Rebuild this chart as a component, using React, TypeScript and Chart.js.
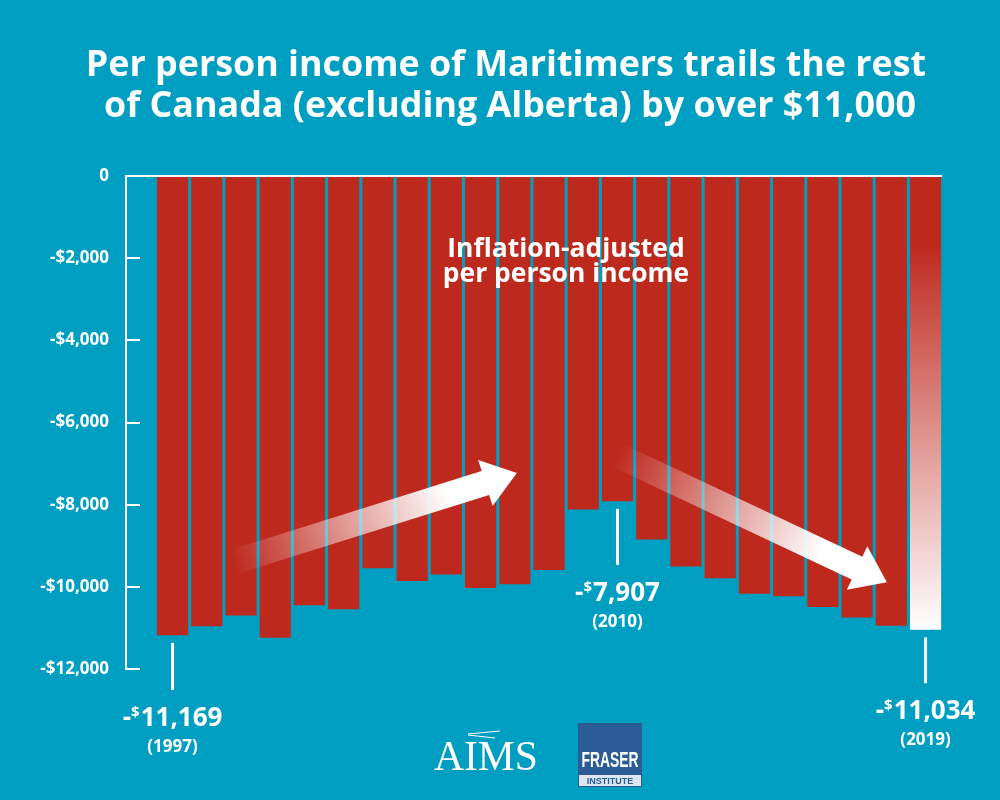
import React, { useEffect, useRef } from "react";
import { Chart, registerables } from "chart.js";

Chart.register(...registerables);

const years = [1997, 1998, 1999, 2000, 2001, 2002, 2003, 2004, 2005, 2006, 2007, 2008, 2009, 2010, 2011, 2012, 2013, 2014, 2015, 2016, 2017, 2018, 2019];
const gapValues = [-11169, -10950, -10690, -11230, -10440, -10540, -9540, -9850, -9690, -10020, -9930, -9580, -8110, -7907, -8840, -9500, -9780, -10160, -10220, -10480, -10740, -10940, -11034];
const yTickValues = [0, -2000, -4000, -6000, -8000, -10000, -12000];
const yTickLabels = ["0", "-$2,000", "-$4,000", "-$6,000", "-$8,000", "-$10,000", "-$12,000"];
const titleLines = ["Per person income of Maritimers trails the rest", "of Canada (excluding Alberta) by over $11,000"];
const noteLines = ["Inflation-adjusted", "per person income"];
const calloutYears = [1997, 2010, 2019];
const calloutNumbers = ["11,169", "7,907", "11,034"];
const calloutYearLabels = ["(1997)", "(2010)", "(2019)"];
const trendArrows = [
  { from: [1998.77, -9399], to: [2007.06, -7232] },
  { from: [2009.99, -6793], to: [2017.87, -9886] },
];

const BG = "#009EC0";
const RED = "#BE291E";
const FONT = "'Open Sans', 'Noto Sans', sans-serif";

function fitSize(ctx: CanvasRenderingContext2D, text: string, weight: string, family: string, width: number) {
  ctx.font = `${weight} 100px ${family}`;
  const w = ctx.measureText(text).width;
  return (100 * width) / w;
}

function drawArrow(ctx: CanvasRenderingContext2D, sx: number, sy: number, tx: number, ty: number) {
  const dx = tx - sx;
  const dy = ty - sy;
  const L = Math.hypot(dx, dy);
  const ux = dx / L;
  const uy = dy / L;
  const nx = -uy;
  const ny = ux;
  const hw = 12.5;
  const hh = 24;
  const hl = 33;
  const bx = tx - ux * hl;
  const by = ty - uy * hl;
  const g = ctx.createLinearGradient(sx, sy, bx, by);
  g.addColorStop(0, "rgba(255,255,255,0)");
  g.addColorStop(0.85, "rgba(255,255,255,1)");
  g.addColorStop(1, "rgba(255,255,255,1)");
  ctx.save();
  ctx.fillStyle = g;
  ctx.beginPath();
  ctx.moveTo(sx + nx * hw, sy + ny * hw);
  ctx.lineTo(bx + nx * hw, by + ny * hw);
  ctx.lineTo(bx + nx * hh, by + ny * hh);
  ctx.lineTo(tx, ty);
  ctx.lineTo(bx - nx * hh, by - ny * hh);
  ctx.lineTo(bx - nx * hw, by - ny * hw);
  ctx.lineTo(sx - nx * hw, sy - ny * hw);
  ctx.closePath();
  ctx.fill();
  ctx.restore();
}

const decorPlugin = {
  id: "decor",
  beforeDraw(chart: any) {
    const ctx = chart.ctx;
    ctx.save();
    ctx.fillStyle = BG;
    ctx.fillRect(0, 0, chart.width, chart.height);
    ctx.restore();
  },
  afterDatasetsDraw(chart: any) {
    const ctx: CanvasRenderingContext2D = chart.ctx;
    const xs = chart.scales.x;
    const ys = chart.scales.y;
    trendArrows.forEach((a) => {
      drawArrow(
        ctx,
        xs.getPixelForValue(a.from[0]),
        ys.getPixelForValue(a.from[1]),
        xs.getPixelForValue(a.to[0]),
        ys.getPixelForValue(a.to[1])
      );
    });
    ctx.save();
    ctx.fillStyle = "#fff";
    ctx.textAlign = "center";
    ctx.textBaseline = "alphabetic";
    const s1 = fitSize(ctx, noteLines[0], "bold", FONT, 236);
    const s2 = fitSize(ctx, noteLines[1], "bold", FONT, 248);
    const ns = (s1 + s2) / 2;
    ctx.font = `bold ${ns}px ${FONT}`;
    ctx.fillText(noteLines[0], 566, 257);
    ctx.fillText(noteLines[1], 566, 282);
    ctx.restore();
  },
  afterDraw(chart: any) {
    const ctx: CanvasRenderingContext2D = chart.ctx;
    const xs = chart.scales.x;
    const ys = chart.scales.y;
    const area = chart.chartArea;
    ctx.save();
    ctx.strokeStyle = "#fff";
    ctx.lineWidth = 2;
    ctx.beginPath();
    ctx.moveTo(area.left, ys.getPixelForValue(0) - 1);
    ctx.lineTo(area.left, ys.getPixelForValue(-12000) + 1);
    ctx.stroke();
    ctx.beginPath();
    ctx.moveTo(area.left - 1, ys.getPixelForValue(0));
    ctx.lineTo(area.right, ys.getPixelForValue(0));
    ctx.stroke();
    yTickValues.forEach((v) => {
      if (v === 0) return;
      const y = Math.round(ys.getPixelForValue(v));
      ctx.beginPath();
      ctx.moveTo(area.left, y);
      ctx.lineTo(area.left + 14, y);
      ctx.stroke();
    });
    ctx.restore();

    const lineLens = [47, 56, 46];
    calloutYears.forEach((yr, k) => {
      const i = years.indexOf(yr);
      const x = xs.getPixelForValue(yr);
      const yb = ys.getPixelForValue(gapValues[i]);
      const y0 = yb + 8;
      const y1 = y0 + lineLens[k];
      ctx.save();
      ctx.strokeStyle = "#fff";
      ctx.lineWidth = 3;
      ctx.beginPath();
      ctx.moveTo(x, y0);
      ctx.lineTo(x, y1);
      ctx.stroke();
      ctx.fillStyle = "#fff";
      ctx.textBaseline = "alphabetic";
      ctx.textAlign = "left";
      const big = `bold 26px ${FONT}`;
      const small = `bold 15px ${FONT}`;
      ctx.font = big;
      const wDash = ctx.measureText("-").width;
      const wNum = ctx.measureText(calloutNumbers[k]).width;
      ctx.font = small;
      const wDol = ctx.measureText("$").width;
      const total = wDash + wDol + 1 + wNum;
      let cx = x - total / 2;
      const base = y1 + 36;
      ctx.font = big;
      ctx.fillText("-", cx, base);
      cx += wDash;
      ctx.font = small;
      ctx.fillText("$", cx, base - 9);
      cx += wDol + 1;
      ctx.font = big;
      ctx.fillText(calloutNumbers[k], cx, base);
      ctx.textAlign = "center";
      ctx.font = `bold 17px ${FONT}`;
      ctx.fillText(calloutYearLabels[k], x, base + 26);
      ctx.restore();
    });

    ctx.save();
    ctx.fillStyle = "#fff";
    ctx.textAlign = "center";
    ctx.textBaseline = "alphabetic";
    const t1 = fitSize(ctx, titleLines[0], "bold", FONT, 824);
    const t2 = fitSize(ctx, titleLines[1], "bold", FONT, 828);
    const ts = (t1 + t2) / 2;
    ctx.font = `bold ${ts}px ${FONT}`;
    ctx.fillText(titleLines[0], 506, 76);
    ctx.fillText(titleLines[1], 510, 117);
    ctx.restore();

    ctx.save();
    ctx.fillStyle = "#fff";
    ctx.textAlign = "left";
    const aimsSize = fitSize(ctx, "AIMS", "normal", "'Liberation Serif', serif", 104);
    ctx.font = `${aimsSize}px 'Liberation Serif', serif`;
    ctx.fillText("AIMS", 434, 770);
    ctx.strokeStyle = "#fff";
    ctx.lineWidth = 1;
    ctx.beginPath();
    ctx.moveTo(468, 734);
    ctx.lineTo(500, 731);
    ctx.moveTo(468, 735);
    ctx.lineTo(495, 738);
    ctx.stroke();
    ctx.restore();

    ctx.save();
    ctx.fillStyle = "#2C5C95";
    ctx.fillRect(578, 723, 64, 64);
    ctx.fillStyle = "#DCE6F0";
    ctx.fillRect(579, 775, 62, 11);
    ctx.fillStyle = "#fff";
    ctx.textAlign = "center";
    ctx.font = `bold 22px 'Liberation Sans Narrow', 'Liberation Sans', sans-serif`;
    ctx.fillText("FRASER", 610, 767, 57);
    ctx.fillStyle = "#2C5C95";
    ctx.font = `bold 9px 'Liberation Sans', sans-serif`;
    ctx.fillText("INSTITUTE", 610, 784, 55);
    ctx.restore();
  },
};

export default function App() {
  const ref = useRef<HTMLCanvasElement | null>(null);
  useEffect(() => {
    document.body.style.margin = "0";
    const canvas = ref.current;
    if (!canvas) return;
    const last = years.length - 1;
    const chart = new Chart(canvas, {
      type: "bar",
      data: {
        datasets: [
          {
            data: years.map((y, i) => ({ x: y, y: gapValues[i] })),
            backgroundColor: (c: any) => {
              if (c.dataIndex !== last) return RED;
              const ch = c.chart;
              if (!ch.chartArea) return RED;
              const ysc = ch.scales.y;
              const top = ysc.getPixelForValue(0);
              const bot = ysc.getPixelForValue(gapValues[last]);
              const g = ch.ctx.createLinearGradient(0, top, 0, bot);
              g.addColorStop(0, RED);
              g.addColorStop(0.15, RED);
              g.addColorStop(1, "#ffffff");
              return g;
            },
            borderWidth: 0,
            barThickness: 30.5,
          } as any,
        ],
      },
      options: {
        responsive: false,
        animation: false,
        devicePixelRatio: 1,
        layout: { padding: { left: 0, right: 58, top: 176, bottom: 131 } },
        plugins: {
          legend: { display: false },
          tooltip: { enabled: false },
          title: { display: false },
        },
        scales: {
          x: {
            type: "linear",
            min: 1995.64,
            max: 2019.48,
            offset: false,
            grid: { offset: false },
            display: false,
          },
          y: {
            type: "linear",
            min: -12000,
            max: 0,
            afterBuildTicks: (s: any) => {
              s.ticks = yTickValues.map((v) => ({ value: v }));
            },
            afterFit: (s: any) => {
              s.width = 126;
            },
            grid: { display: false, drawTicks: false },
            border: { display: false },
            ticks: {
              color: "#fff",
              padding: 17,
              font: { family: FONT, size: 17, weight: "bold" },
              callback: (v: any) => {
                const idx = yTickValues.indexOf(Number(v));
                return idx >= 0 ? yTickLabels[idx] : "";
              },
            },
          },
        },
      } as any,
      plugins: [decorPlugin as any],
    });
    return () => chart.destroy();
  }, []);
  return (
    <div style={{ width: 1000, height: 800, background: BG }}>
      <canvas ref={ref} width={1000} height={800} style={{ display: "block" }} />
    </div>
  );
}
